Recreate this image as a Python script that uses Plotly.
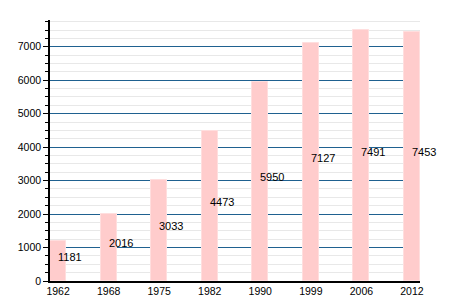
import plotly.graph_objects as go

years = ["1962", "1968", "1975", "1982", "1990", "1999", "2006", "2012"]
population = [1181, 2016, 3033, 4473, 5950, 7127, 7491, 7453]

fig = go.Figure()
fig.add_trace(go.Bar(
    x=years, y=population, width=0.32,
    marker=dict(color="#ffcccc", line=dict(width=1, color="#ffdede")),
    hoverinfo="skip",
))

for i, v in enumerate(population):
    fig.add_annotation(x=i, y=v / 2, xref="x", yref="y", text=str(v), showarrow=False,
                       xanchor="left", yanchor="bottom", xshift=-2, yshift=-4,
                       font=dict(family="Liberation Sans, Arial", size=11, color="#000"))

# page body has an 8px default margin, so the figure is sized to fit the window
fig.update_layout(
    width=442, height=292,
    margin=dict(l=42, r=30, t=12, b=19),
    paper_bgcolor="white", plot_bgcolor="white",
    showlegend=False,
    font=dict(family="Liberation Sans, Arial", size=10, color="#000"),
    bargap=0,
)
fig.update_xaxes(
    type="category", range=[-0.16, 7.16], automargin=False,
    showline=True, linecolor="black", linewidth=1.5,
    ticks="", showgrid=False,
    tickfont=dict(size=10.5),
)
fig.update_yaxes(
    range=[0, 7800], dtick=1000, tick0=0, automargin=False,
    showgrid=True, gridcolor="#1f6190", gridwidth=1,
    showline=True, linecolor="black", linewidth=1.5,
    ticks="outside", ticklen=5, tickcolor="black",
    zeroline=False,
    minor=dict(dtick=250, showgrid=True, gridcolor="#e8e8e8", gridwidth=1,
               ticks="outside", ticklen=3, tickcolor="black"),
    tickfont=dict(size=10.5),
)

fig.write_html("out.html")
